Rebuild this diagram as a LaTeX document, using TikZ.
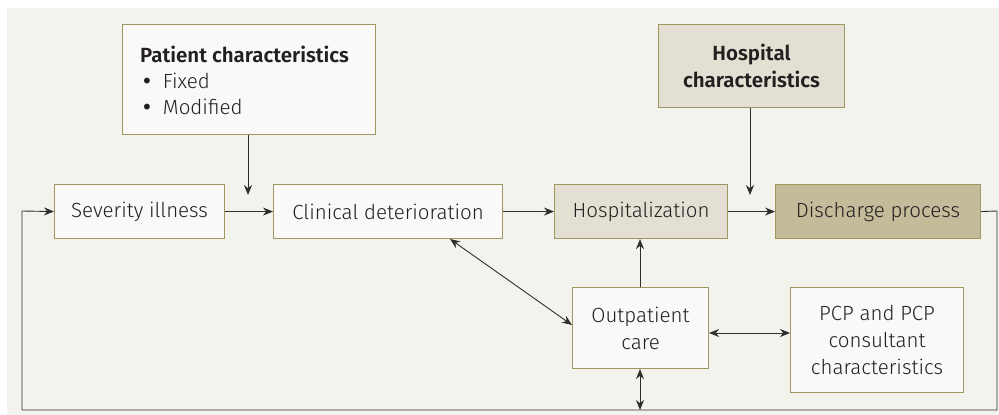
\documentclass[tikz,border=0pt]{standalone}
\usepackage{fontspec}
\setmainfont{Fira Sans Light}[BoldFont=Fira Sans SemiBold]
\newfontfamily\bulletfont{DejaVu Sans}
\usetikzlibrary{arrows.meta}
\definecolor{bg}{HTML}{F3F3EE}
\definecolor{boxline}{HTML}{A0965F}
\definecolor{boxfill}{HTML}{F9F9F7}
\definecolor{lightfill}{HTML}{E3E0D3}
\definecolor{darkfill}{HTML}{C3BB9A}
\definecolor{linec}{HTML}{2E2E2E}
\definecolor{txt}{HTML}{231F20}
\newcommand{\mybul}{{\bulletfont\fontsize{20}{20}\selectfont\textbullet}}
\tikzset{
  box/.style={draw=boxline, line width=1.1pt, fill=boxfill, inner sep=0pt, align=center, font=\fontsize{20.5}{27}\selectfont, text=txt},
  conn/.style={draw=linec, line width=0.9pt, -{Stealth[length=10pt,width=8pt]}},
  dconn/.style={draw=linec, line width=0.9pt, {Stealth[length=10pt,width=8pt]}-{Stealth[length=10pt,width=8pt]}},
}
\begin{document}
\begin{tikzpicture}[x=1pt,y=-1pt]
\useasboundingbox (0,0) rectangle (999,415);
\fill[white] (0,0) rectangle (999,415);
\fill[bg] (7,8) rectangle (999,415);
% boxes
\node[box, minimum width=253pt, minimum height=110pt, anchor=north west] (pat) at (122,24) {};
\node[anchor=north west, inner sep=0pt, align=left, font=\fontsize{20.5}{26}\selectfont, text=txt] (pattext) at (140,46) {\textbf{Patient characteristics}\\\hspace{1pt}\mybul\hspace{10pt}Fixed\\\hspace{1pt}\mybul\hspace{10pt}Modified};
\node[box, minimum width=170pt, minimum height=54pt, anchor=north west] (sev) at (54,184) {Severity illness};
\node[box, minimum width=229pt, minimum height=54pt, anchor=north west] (clin) at (273,184) {Clinical deterioration};
\node[box, fill=lightfill, minimum width=173pt, minimum height=54pt, anchor=north west] (hosp) at (554,184) {Hospitalization};
\node[box, fill=darkfill, minimum width=205pt, minimum height=54pt, anchor=north west] (dis) at (775,184) {Discharge process};
\node[box, fill=lightfill, minimum width=186pt, minimum height=83pt, anchor=north west, font=\fontsize{20.5}{27}\selectfont\bfseries] (hchar) at (658,24) {Hospital\\characteristics};
\node[box, minimum width=136pt, minimum height=81pt, anchor=north west] (out) at (572,287) {Outpatient\\care};
\node[box, minimum width=173pt, minimum height=105pt, anchor=north west] (pcp) at (790,287) {PCP and PCP\\consultant\\characteristics};
% coordinates
\coordinate (pattip) at (248,195);
\coordinate (htip) at (750,195);
\coordinate (r1) at (997,211);
\coordinate (r2) at (997,410);
\coordinate (l2) at (22,410);
\coordinate (l1) at (22,211);
\coordinate (bot) at (640,410);
\coordinate (clinb) at (450,239);
% connectors
\draw[conn] (pat.south -| pattip) -- (pattip);
\draw[conn] (hchar.south -| htip) -- (htip);
\draw[conn] (sev.east) -- (clin.west);
\draw[conn] (clin.east) -- (hosp.west);
\draw[conn] (hosp.east) -- (dis.west);
\draw[conn] (dis.east) -- (r1) -- (r2) -- (l2) -- (l1) -- (sev.west);
\draw[conn] (out.north -| bot) -- (hosp.south -| bot);
\draw[dconn] (clinb) -- (out.west |- 0,325);
\draw[dconn] (out.east |- 0,333) -- (pcp.west |- 0,333);
\draw[dconn] (out.south -| bot) -- (bot);
\end{tikzpicture}
\end{document}
